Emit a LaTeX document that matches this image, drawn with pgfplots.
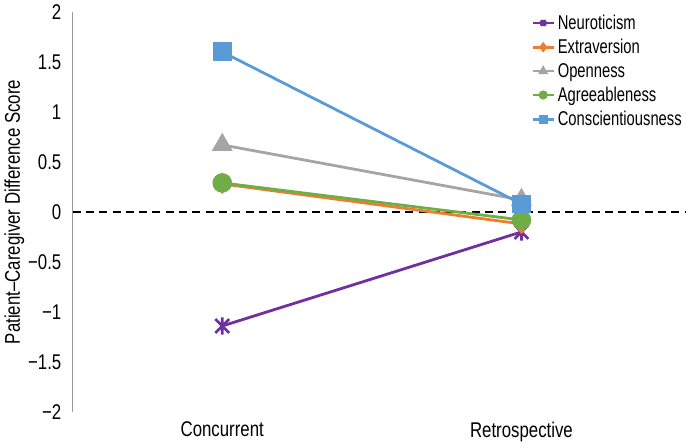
\documentclass[border=0pt]{standalone}
\usepackage{pgfplots}
\pgfplotsset{compat=1.18}
\usepackage{fontspec}
\setmainfont{Liberation Sans}[FakeStretch=0.79]
\newfontfamily\legfont{Liberation Sans}[FakeStretch=0.74]
\definecolor{cNeu}{HTML}{7030A0}
\definecolor{cExt}{HTML}{ED7D31}
\definecolor{cOpe}{HTML}{A5A5A5}
\definecolor{cAgr}{HTML}{70AD47}
\definecolor{cCon}{HTML}{5B9BD5}
\pgfdeclareplotmark{xbar}{%
  \pgfpathmoveto{\pgfqpoint{-0.8\pgfplotmarksize}{-0.8\pgfplotmarksize}}%
  \pgfpathlineto{\pgfqpoint{0.8\pgfplotmarksize}{0.8\pgfplotmarksize}}%
  \pgfpathmoveto{\pgfqpoint{-0.8\pgfplotmarksize}{0.8\pgfplotmarksize}}%
  \pgfpathlineto{\pgfqpoint{0.8\pgfplotmarksize}{-0.8\pgfplotmarksize}}%
  \pgfpathmoveto{\pgfqpoint{0pt}{-\pgfplotmarksize}}%
  \pgfpathlineto{\pgfqpoint{0pt}{\pgfplotmarksize}}%
  \pgfusepathqstroke}
\begin{document}
\begin{tikzpicture}
\begin{axis}[
  scale only axis,
  width=461pt, height=300.75pt,
  xmin=-0.5, xmax=1.55,
  ymin=-2, ymax=2,
  axis lines*=left,
  x axis line style={draw=none},
  y axis line style={draw=gray!80, line width=0.6pt},
  xtick={0,1},
  xticklabels={Concurrent,Retrospective},
  ytick={-2,-1.5,-1,-0.5,0,0.5,1,1.5,2},
  yticklabels={−2,−1.5,−1,−0.5,0,0.5,1,1.5,2},
  major tick length=0pt,
  extra y ticks={0},
  extra y tick labels={},
  extra y tick style={major tick length=4pt, tick style={black, line width=0.9pt}},
  tick label style={font=\fontsize{16}{18}\selectfont},
  yticklabel style={xshift=-5pt},
  xticklabel style={yshift=-4pt},
  ylabel={Patient–Caregiver Difference Score},
  ylabel style={font=\fontsize{16}{18}\selectfont, yshift=-4pt},
  clip=false,
  legend style={draw=none, fill=none, at={(1.0,1.0)}, anchor=north east,
    font=\legfont\fontsize{15}{17}\selectfont, row sep=1.8pt, cells={anchor=west},
    inner xsep=1pt, inner ysep=0pt},
  legend image code/.code={\draw[mark repeat=2,mark phase=2,#1,mark size=2.4pt,line width=2pt] plot coordinates {(0cm,0cm) (0.28cm,0cm) (0.56cm,0cm)};},
]
\addplot[black, dash pattern=on 6pt off 4pt, line width=1.5pt, forget plot] coordinates {(-0.5,0) (1.55,0)};
\addplot[cNeu, line width=2.1pt, mark=xbar, mark size=6.5pt, mark options={line width=2pt}] coordinates {(0,-1.14) (1,-0.20)};
\addlegendentry{Neuroticism}
\addplot[cExt, line width=2.1pt, mark=diamond*, mark size=6pt] coordinates {(0,0.28) (1,-0.12)};
\addlegendentry{Extraversion}
\addplot[cOpe, line width=2.1pt, mark=triangle*, mark size=7pt] coordinates {(0,0.67) (1,0.12)};
\addlegendentry{Openness}
\addplot[cAgr, line width=2.1pt, mark=*, mark size=6.3pt] coordinates {(0,0.29) (1,-0.08)};
\addlegendentry{Agreeableness}
\addplot[cCon, line width=2.1pt, mark=square*, mark size=6pt] coordinates {(0,1.60) (1,0.08)};
\addlegendentry{Conscientiousness}
\end{axis}
\end{tikzpicture}
\end{document}
